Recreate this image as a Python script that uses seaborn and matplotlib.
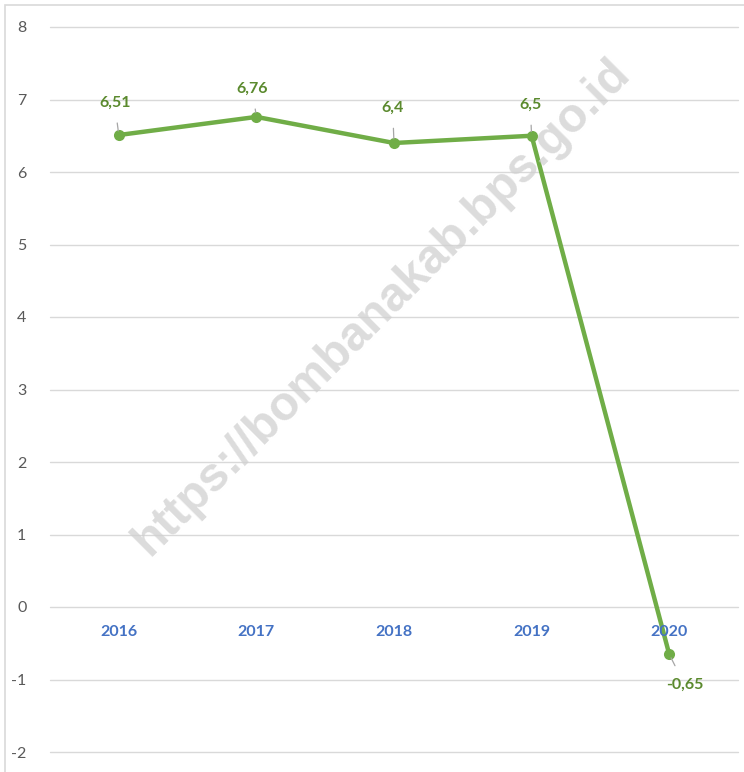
import matplotlib
matplotlib.use("Agg")
import matplotlib.pyplot as plt
import matplotlib.patches as mpatches
import seaborn as sns
import pandas as pd

years = ["2016", "2017", "2018", "2019", "2020"]
growth = [6.51, 6.76, 6.4, 6.5, -0.65]
value_labels = ["6,51", "6,76", "6,4", "6,5", "-0,65"]
y_ticks = [-2, -1, 0, 1, 2, 3, 4, 5, 6, 7, 8]

sns.set_theme(style="white")
plt.rcParams["font.family"] = ["Lato", "DejaVu Sans"]

df = pd.DataFrame({"year": years, "growth": growth})

fig = plt.figure(figsize=(7.44, 7.72), dpi=100)
ax = fig.add_axes([50 / 744, 1 - 752 / 772, 688 / 744, 725 / 772])

# outer chart frame
fig.patches.append(mpatches.Rectangle((5 / 744, -0.05), 1.0, 1 - 5 / 772 + 0.05,
                                      transform=fig.transFigure, fill=False,
                                      edgecolor="#d9d9d9", linewidth=1.2))

sns.lineplot(data=df, x="year", y="growth", ax=ax, color="#70ad47",
             linewidth=3.2, marker="o", markersize=8, markeredgewidth=0, sort=False)

ax.set_xlim(-0.5, 4.5)
ax.set_ylim(-2, 8)
ax.set_yticks(y_ticks)
ax.set_yticklabels([str(t) for t in y_ticks], color="#595959", fontsize=11.5)
ax.tick_params(axis="y", length=0, pad=17)
ax.set_xticks([])
ax.set_xlabel("")
ax.set_ylabel("")
ax.grid(axis="y", color="#d9d9d9", linewidth=1)
for gl in ax.get_ygridlines():
    gl.set_clip_on(False)
ax.set_axisbelow(True)
for s in ax.spines.values():
    s.set_visible(False)

# category labels sit just under the zero line
for i, yr in enumerate(years):
    ax.annotate(yr, (i, 0), xytext=(0, -18), textcoords="offset points",
                ha="center", va="center", color="#4472c4", fontsize=11.5,
                fontweight="bold")

# data labels with short leader lines
offsets = [(-3, 23), (-3, 20), (-1, 25), (-1, 22), (11, -22)]
for i, (v, lab, off) in enumerate(zip(growth, value_labels, offsets)):
    ax.annotate(lab, (i, v), xytext=off, textcoords="offset points",
                ha="center", va="center", color="#5b8a2e", fontsize=11.5,
                fontweight="bold",
                arrowprops=dict(arrowstyle="-", color="#a6a6a6", lw=0.9,
                                shrinkA=7, shrinkB=3))

# site watermark
fig.text(382 / 744, 1 - 307 / 772, "https://bombanakab.bps.go.id",
         rotation=45, ha="center", va="center", fontsize=34.5,
         fontweight="bold", color="#d0d0d0", alpha=0.75,
         family=["Liberation Sans", "DejaVu Sans"], zorder=10)

fig.savefig("out.png", dpi=100)
